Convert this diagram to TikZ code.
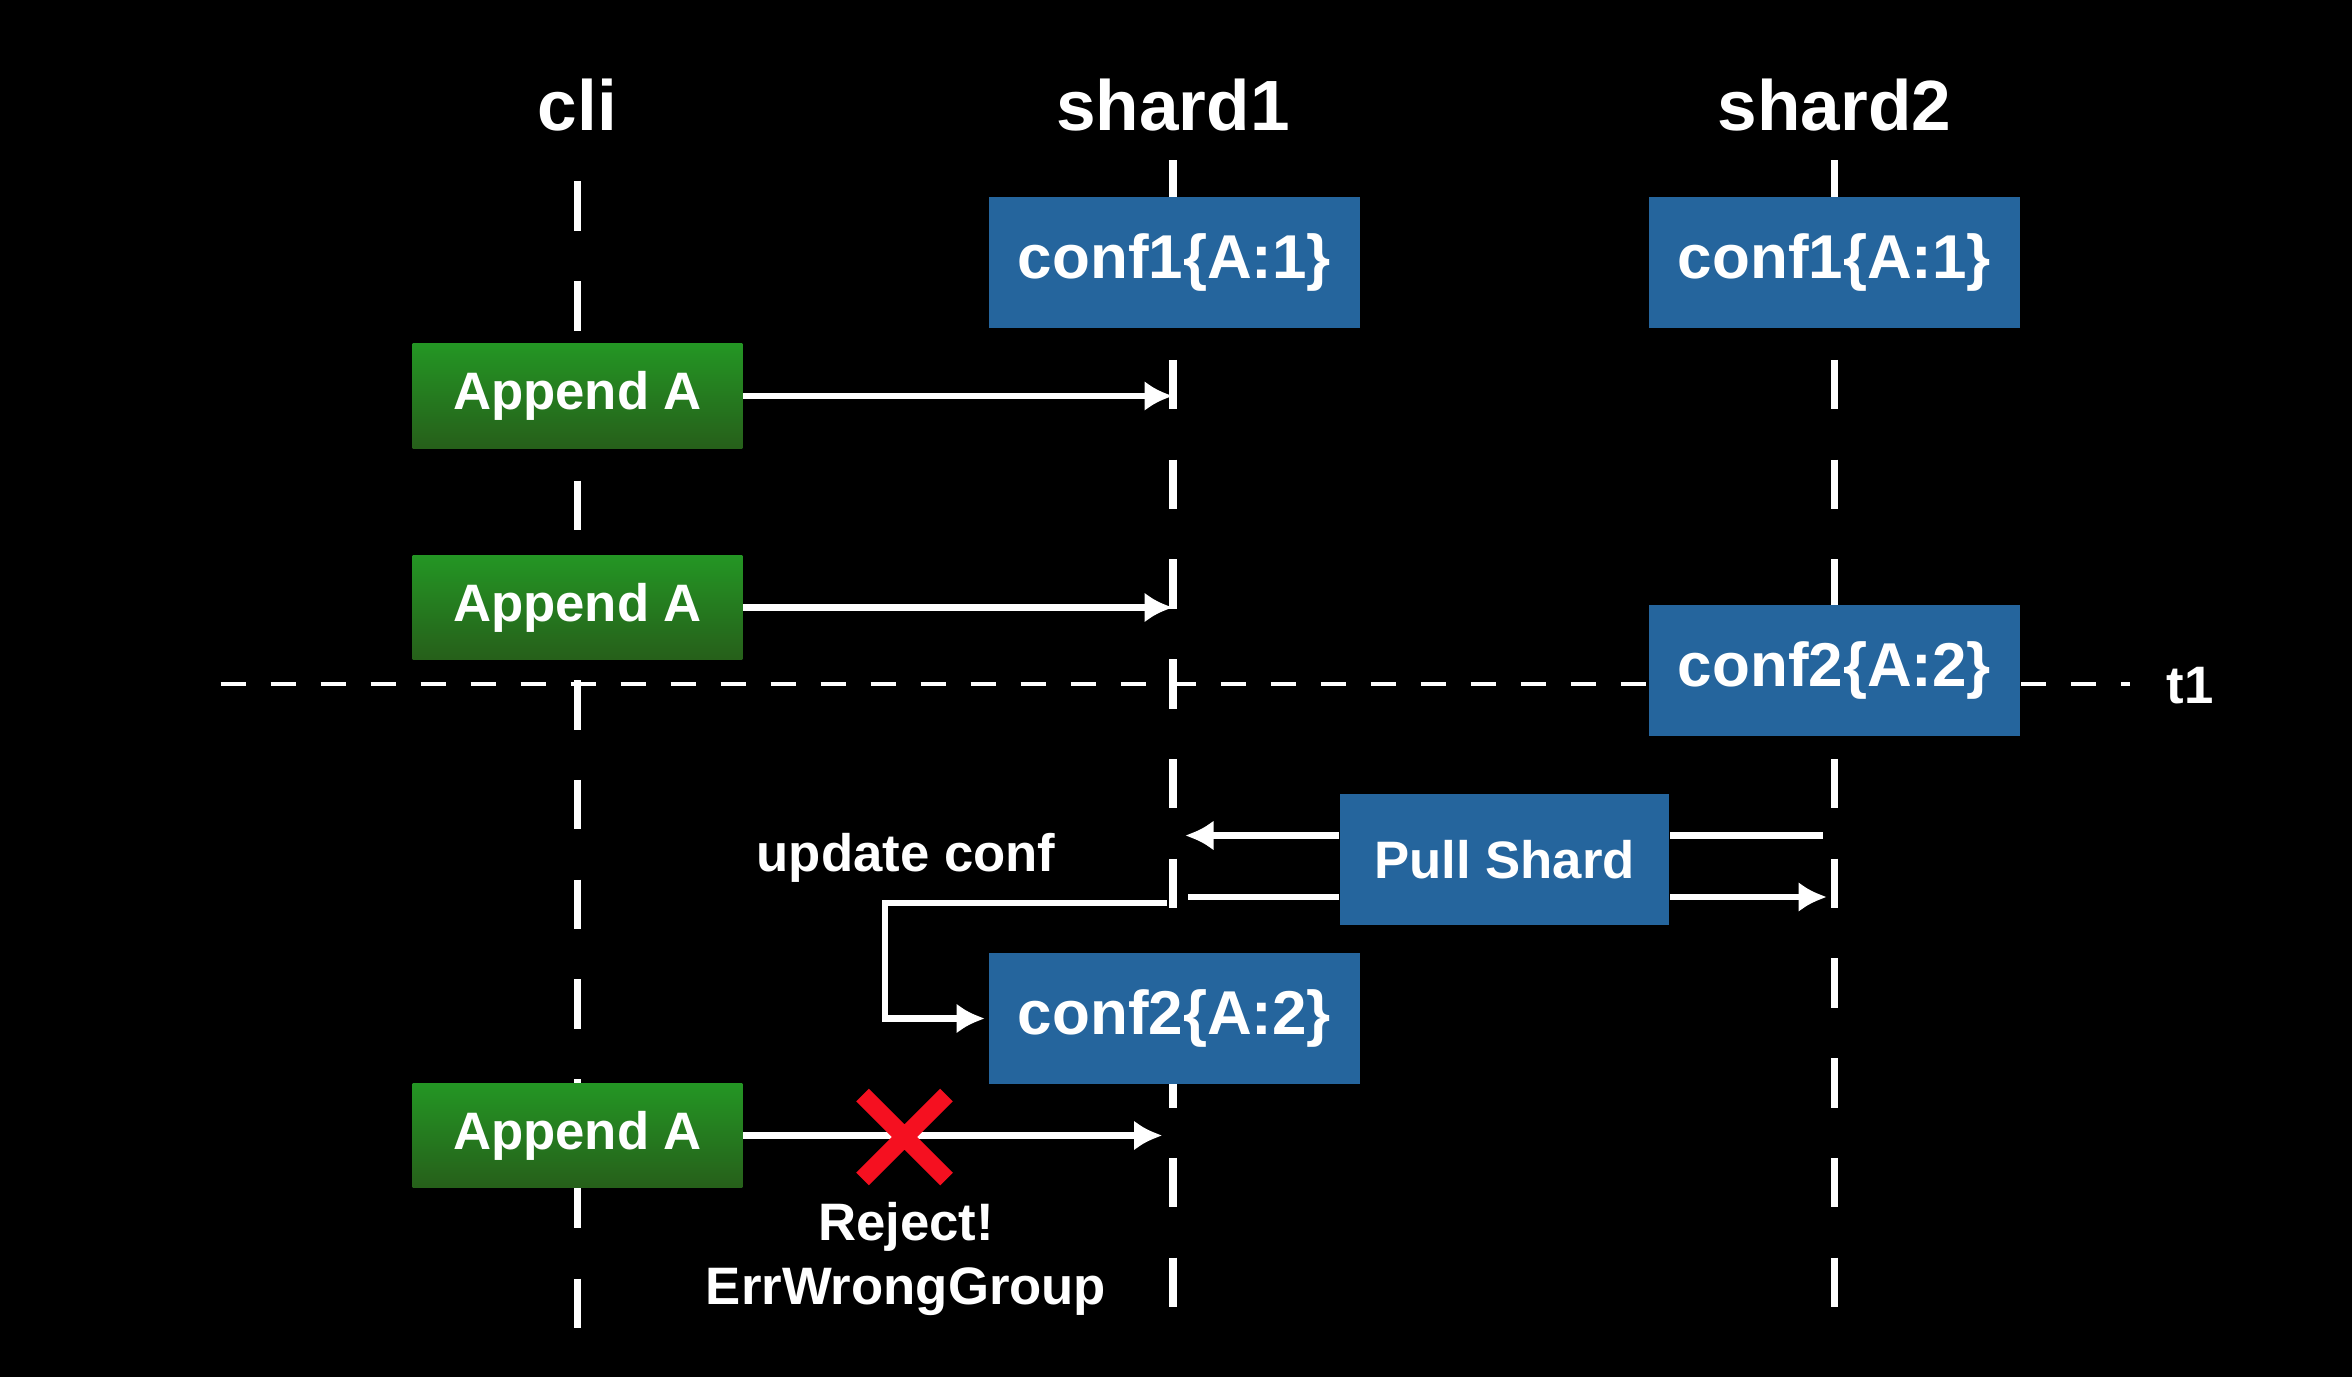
\documentclass[tikz,border=0pt]{standalone}
\usepackage{fontspec}
\setmainfont{Liberation Sans}
\usetikzlibrary{arrows.meta,shapes.misc,calc}
\definecolor{confblue}{RGB}{37,101,157}
\definecolor{appgreentop}{RGB}{36,150,36}
\definecolor{appgreenbot}{RGB}{38,95,26}
\definecolor{xred}{RGB}{245,16,32}
\tikzset{
  headtext/.style={text=white, font=\fontsize{27}{32}\selectfont\bfseries},
  note/.style={text=white, font=\fontsize{20}{24}\selectfont\bfseries},
  confbox/.style={fill=confblue, text=white, inner sep=0pt, minimum width=4.96cm, minimum height=1.76cm, font=\fontsize{23.5}{28}\selectfont\bfseries},
  appbox/.style={top color=appgreentop, bottom color=appgreenbot, text=white, inner sep=0pt, minimum width=4.4cm, minimum height=1.4cm, font=\fontsize{20}{24}\selectfont\bfseries},
  pullbox/.style={fill=confblue, text=white, inner sep=0pt, minimum width=4.4cm, minimum height=1.76cm, font=\fontsize{20}{24}\selectfont\bfseries},
  lifeline/.style={white, line width=3pt, dash pattern=on 0.66cm off 0.67cm},
  timeline/.style={white, line width=1.5pt, dash pattern=on 0.334cm off 0.333cm},
  wire/.style={white, line width=2.5pt},
  msg/.style={wire, -{Latex[length=0.38cm,width=0.4cm]}}
}
\begin{document}
\begin{tikzpicture}[x=0.02cm,y=-0.02cm]
    \fill[black] (0,0) rectangle (1568,918);
    \useasboundingbox (0,0) rectangle (1568,918);

    % heads
    \node[headtext] (cli) at (385,70) {cli};
    \node[headtext] (s1) at (782,70) {shard1};
    \node[headtext] (s2) at (1223,70) {shard2};

    % lifelines
    \coordinate (cli top) at (385,121);
    \coordinate (cli end) at (385,888);
    \coordinate (s1 top) at (782,107);
    \coordinate (s1 end) at (782,873);
    \coordinate (s2 top) at (1223,107);
    \coordinate (s2 end) at (1223,873);
    \draw[lifeline] (cli top) -- (cli end);
    \draw[lifeline] (s1 top) -- (s1 end);
    \draw[lifeline] (s2 top) -- (s2 end);

    % t1
    \coordinate (t1 start) at (147,456);
    \coordinate (t1 end) at (1420,456);
    \draw[timeline] (t1 start) -- (t1 end);
    \node[note] (t1) at (1460,457) {t1};

    \node[confbox] (c11) at (783,175) {conf1\{A:1\}};
    \node[confbox] (c12) at (1223,175) {conf1\{A:1\}};
    \node[appbox] (app1) at (385,264) {Append A};
    \node[appbox] (app2) at (385,405) {Append A};
    \node[confbox] (c22) at (1223,447) {conf2\{A:2\}};
    \node[pullbox] (pull) at (1003,573) {Pull Shard};
    \node[confbox] (c21) at (783,679) {conf2\{A:2\}};
    \node[appbox] (app3) at (385,757) {Append A};

    \draw[msg] (app1.east) -- (app1.east -| s1);
    \draw[msg] (app2.east) -- (app2.east -| s1);

    % pull shard
    \draw[wire] ($(s2 |- pull)+(-8,-16)$) -- ($(pull.east)+(0,-16)$);
    \draw[msg] ($(pull.west)+(0,-16)$) -- ($(s1 |- pull)+(8,-16)$);
    \draw[wire] ($(s1 |- pull)+(10,25)$) -- ($(pull.west)+(0,25)$);
    \draw[msg] ($(pull.east)+(0,25)$) -- ($(s2 |- pull)+(-5,25)$);

    % update conf
    \node[note] (upd) at (604,572) {update conf};
    \draw[msg, shorten >=0.04cm] ($(s1 |- pull)+(-4,29)$) -- ++(-188,0) |- (c21.west);

    \draw[msg, shorten >=0.14cm] (app3.east) -- (app3.east -| s1);
    \node[cross out, draw=xred, line width=0.24cm, minimum size=0.88cm, inner sep=0pt] (rej) at (603,758) {};
    \node[note] (rejtxt) at (604,818) {Reject!};
    \node[note] (errtxt) at (604,861) {ErrWrongGroup};

\end{tikzpicture}
\end{document}
